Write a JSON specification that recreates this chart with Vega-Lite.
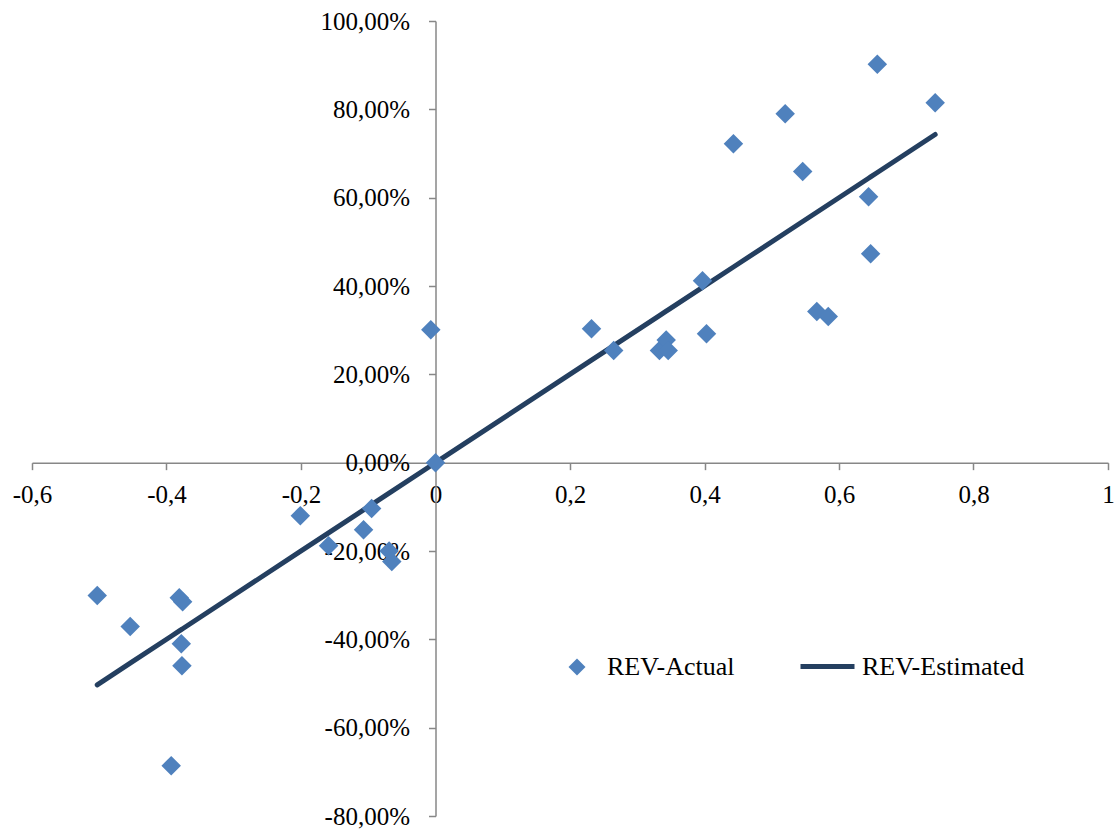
{
  "$schema": "https://vega.github.io/schema/vega-lite/v6.json",
  "autosize": "none",
  "width": 1076,
  "height": 795,
  "padding": {"left": 32, "top": 21, "right": 10, "bottom": 15},
  "background": "white",
  "config": {
    "locale": {"number": {"decimal": ",", "thousands": ".", "grouping": [3], "currency": ["", " €"], "minus": "-"}},
    "view": {"stroke": null},
    "axis": {
      "grid": false,
      "domainColor": "#878787",
      "tickColor": "#878787",
      "domainWidth": 1.5,
      "tickWidth": 1.5,
      "tickSize": 7,
      "labelFont": "Liberation Serif",
      "labelFontSize": 25,
      "labelColor": "#000000",
      "title": null,
      "labelBound": false,
      "labelFlush": false,
      "labelOverlap": false
    },
    "legend": {
      "labelFont": "Liberation Serif",
      "labelFontSize": 26,
      "labelColor": "#000000",
      "labelLimit": 0,
      "padding": 0,
      "offset": 0
    }
  },
  "data": {
    "values": [
      {"x": -0.503, "actual": -0.301, "estimated": -0.503},
      {"x": -0.454, "actual": -0.371, "estimated": -0.454},
      {"x": -0.393, "actual": -0.686, "estimated": -0.393},
      {"x": -0.381, "actual": -0.306, "estimated": -0.381},
      {"x": -0.378, "actual": -0.410, "estimated": -0.378},
      {"x": -0.377, "actual": -0.460, "estimated": -0.377},
      {"x": -0.376, "actual": -0.315, "estimated": -0.376},
      {"x": -0.201, "actual": -0.120, "estimated": -0.201},
      {"x": -0.159, "actual": -0.188, "estimated": -0.159},
      {"x": -0.107, "actual": -0.152, "estimated": -0.107},
      {"x": -0.095, "actual": -0.104, "estimated": -0.095},
      {"x": -0.069, "actual": -0.200, "estimated": -0.069},
      {"x": -0.065, "actual": -0.224, "estimated": -0.065},
      {"x": -0.007, "actual": 0.301, "estimated": -0.007},
      {"x": 0.0, "actual": 0.0, "estimated": 0.0},
      {"x": 0.232, "actual": 0.303, "estimated": 0.232},
      {"x": 0.265, "actual": 0.254, "estimated": 0.265},
      {"x": 0.333, "actual": 0.254, "estimated": 0.333},
      {"x": 0.343, "actual": 0.278, "estimated": 0.343},
      {"x": 0.346, "actual": 0.254, "estimated": 0.346},
      {"x": 0.397, "actual": 0.412, "estimated": 0.397},
      {"x": 0.403, "actual": 0.292, "estimated": 0.403},
      {"x": 0.443, "actual": 0.722, "estimated": 0.443},
      {"x": 0.520, "actual": 0.790, "estimated": 0.520},
      {"x": 0.546, "actual": 0.659, "estimated": 0.546},
      {"x": 0.567, "actual": 0.342, "estimated": 0.567},
      {"x": 0.584, "actual": 0.331, "estimated": 0.584},
      {"x": 0.644, "actual": 0.602, "estimated": 0.644},
      {"x": 0.647, "actual": 0.473, "estimated": 0.647},
      {"x": 0.657, "actual": 0.902, "estimated": 0.657},
      {"x": 0.743, "actual": 0.815, "estimated": 0.743}
    ]
  },
  "encoding": {
    "x": {
      "field": "x",
      "type": "quantitative",
      "scale": {"domain": [-0.6, 1], "nice": false, "zero": false},
      "axis": {
        "orient": "bottom",
        "offset": -353.33,
        "values": [-0.6, -0.4, -0.2, 0, 0.2, 0.4, 0.6, 0.8, 1],
        "format": "~g",
        "labelPadding": 13
      }
    }
  },
  "layer": [
    {
      "mark": {"type": "line", "strokeWidth": 5, "strokeCap": "round", "strokeJoin": "round"},
      "encoding": {
        "y": {
          "field": "estimated",
          "type": "quantitative",
          "scale": {"domain": [-0.8, 1.0], "nice": false, "zero": false},
          "axis": {
            "orient": "left",
            "offset": -403.5,
            "values": [-0.8, -0.6, -0.4, -0.2, 0, 0.2, 0.4, 0.6, 0.8, 1.0],
            "format": ".2%",
            "labelPadding": 19
          }
        },
        "color": {
          "datum": "REV-Estimated",
          "scale": {"range": ["#243f60"]},
          "legend": {
            "title": null,
            "orient": "none",
            "legendX": 766,
            "legendY": 616,
            "symbolType": "stroke",
            "symbolSize": 2916,
            "symbolStrokeWidth": 5,
            "symbolStrokeColor": "#243f60",
            "labelOffset": 5
          }
        }
      }
    },
    {
      "mark": {"type": "point", "shape": "diamond", "filled": true, "size": 380, "opacity": 1},
      "encoding": {
        "y": {"field": "actual", "type": "quantitative"},
        "color": {
          "datum": "REV-Actual",
          "scale": {"range": ["#4f81bd"]},
          "legend": {
            "title": null,
            "orient": "none",
            "legendX": 532,
            "legendY": 633,
            "symbolType": "diamond",
            "symbolSize": 289,
            "symbolFillColor": "#4f81bd",
            "symbolStrokeColor": "#4f81bd",
            "symbolStrokeWidth": 0,
            "labelOffset": 17
          }
        }
      }
    }
  ],
  "resolve": {"scale": {"color": "independent"}}
}
